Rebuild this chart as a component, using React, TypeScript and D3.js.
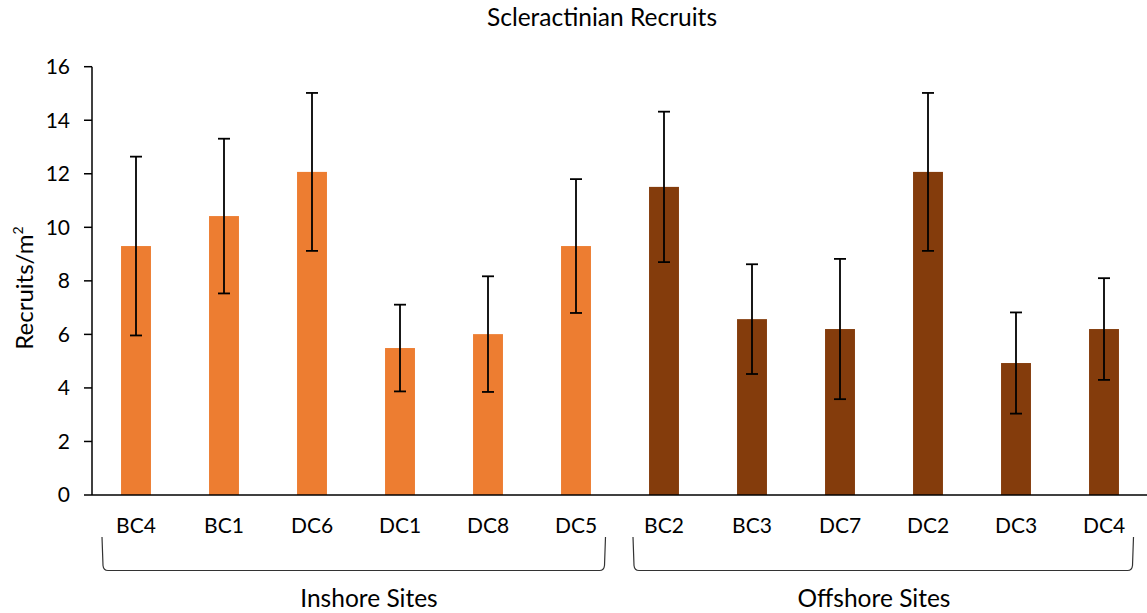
import React from "react";
import * as d3 from "d3";

const sites = ["BC4", "BC1", "DC6", "DC1", "DC8", "DC5", "BC2", "BC3", "DC7", "DC2", "DC3", "DC4"];
const groups = ["Inshore", "Inshore", "Inshore", "Inshore", "Inshore", "Inshore", "Offshore", "Offshore", "Offshore", "Offshore", "Offshore", "Offshore"];
const means = [9.3, 10.42, 12.07, 5.49, 6.01, 9.3, 11.51, 6.57, 6.2, 12.07, 4.93, 6.2];
const errors = [3.34, 2.89, 2.95, 1.62, 2.16, 2.5, 2.81, 2.05, 2.62, 2.95, 1.89, 1.9];
const yTicks = [0, 2, 4, 6, 8, 10, 12, 14, 16];
const groupNames = ["Inshore", "Offshore"];
const groupLabels = ["Inshore Sites", "Offshore Sites"];
const groupColors = ["#ED7D31", "#843C0C"];

const W = 1147;
const H = 613;
const FONT = "Lato, 'Open Sans', sans-serif";
const labelShift = [13, -10];

export default function App() {
  const x = d3.scaleBand<string>().domain(sites).range([92, 1148]).padding(0);
  const y = d3.scaleLinear().domain([0, 16]).range([495, 66.7]);
  const color = d3.scaleOrdinal<string, string>().domain(groupNames).range(groupColors);
  const barW = x.step() * 0.34;
  const capW = 12;

  const brackets = groupNames.map((g, gi) => {
    const members = sites.filter((_, i) => groups[i] === g);
    const first = members[0];
    const last = members[members.length - 1];
    const gx0 = x(first) as number;
    const gx1 = (x(last) as number) + x.step();
    const x1 = gx0 + 10 + gi * 3;
    const x2 = gx1 - 14.5;
    return { x1, x2, cx: (gx0 + gx1) / 2 + labelShift[gi], label: groupLabels[gi] };
  });

  const top = 537;
  const bot = 570.5;

  return (
    <svg width={W} height={H} style={{ position: "absolute", left: 0, top: 0, background: "#fff" }} fontFamily={FONT}>
      <rect x={0} y={0} width={W} height={H} fill="#fff" />
      <text x={602} y={26} textAnchor="middle" fontSize={24.5} fill="#000">Scleractinian Recruits</text>

      {/* bars */}
      {sites.map((s, i) => {
        const cx = (x(s) as number) + x.step() / 2;
        return (
          <rect key={s} x={cx - barW / 2} y={y(means[i])} width={barW} height={y(0) - y(means[i])} fill={color(groups[i])} />
        );
      })}

      {/* y axis */}
      <line x1={92} x2={92} y1={y(16)} y2={y(0)} stroke="#000" strokeWidth={1.5} />
      {yTicks.map((t) => (
        <g key={t}>
          <line x1={84} x2={92} y1={y(t)} y2={y(t)} stroke="#000" strokeWidth={1.5} />
          <text x={70} y={y(t)} dy="0.35em" textAnchor="end" fontSize={21} fill="#000">{t}</text>
        </g>
      ))}
      {/* x axis */}
      <line x1={92} x2={W} y1={y(0)} y2={y(0)} stroke="#000" strokeWidth={1.5} />

      {/* error bars */}
      {sites.map((s, i) => {
        const cx = (x(s) as number) + x.step() / 2;
        const hi = y(means[i] + errors[i]);
        const lo = y(means[i] - errors[i]);
        return (
          <g key={s + "e"} stroke="#000" strokeWidth={1.8}>
            <line x1={cx} x2={cx} y1={hi} y2={lo} />
            <line x1={cx - capW / 2} x2={cx + capW / 2} y1={hi} y2={hi} />
            <line x1={cx - capW / 2} x2={cx + capW / 2} y1={lo} y2={lo} />
          </g>
        );
      })}

      {/* category labels */}
      {sites.map((s) => (
        <text key={s + "l"} x={(x(s) as number) + x.step() / 2} y={533} textAnchor="middle" fontSize={21} fill="#000">{s}</text>
      ))}

      {/* group brackets */}
      {brackets.map((b) => (
        <g key={b.label}>
          <path
            d={`M${b.x1},${top} L${b.x1 + 1},${bot - 5} Q${b.x1 + 1.5},${bot} ${b.x1 + 6},${bot} L${b.x2 - 6},${bot} Q${b.x2 - 1.5},${bot} ${b.x2 - 1},${bot - 5} L${b.x2},${top}`}
            fill="none"
            stroke="#333"
            strokeWidth={1.2}
          />
          <text x={b.cx} y={607} textAnchor="middle" fontSize={24.5} fill="#000">{b.label}</text>
        </g>
      ))}

      {/* y title */}
      <text transform={`translate(33,288) rotate(-90)`} textAnchor="middle" fontSize={24} fill="#000">
        Recruits/m<tspan fontSize={14} dy={-10}>2</tspan>
      </text>
    </svg>
  );
}
